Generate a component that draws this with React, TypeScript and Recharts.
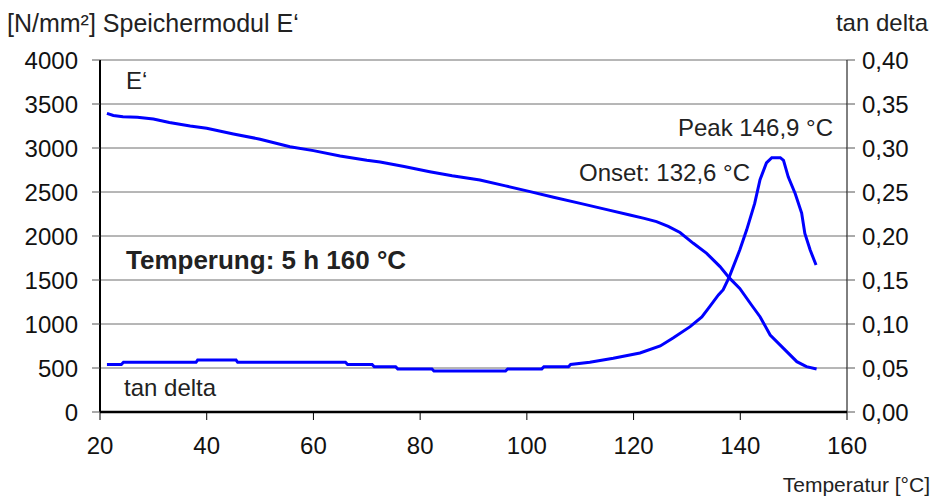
import React from 'react'
import {
  LineChart,
  Line,
  XAxis,
  YAxis,
  CartesianGrid
} from 'recharts'

// Speichermodul E' (left axis)
const tempModulus = [
  21.3, 22.5, 24.3, 27, 30, 33, 36.9, 40, 45, 50, 55.6, 60, 65, 70, 72.5, 77, 81.8, 86,
  91.2, 96, 100.6, 105, 110, 115, 119.3, 122, 124.3, 126.5, 128.7, 131.2, 133.7, 136.2,
  137.9, 139.9, 142.1, 143.7, 145.6, 148.1, 150.6, 152.4, 154.3
]
const modulus = [
  3394, 3370, 3356, 3350, 3330, 3290, 3250, 3225, 3160, 3100, 3015, 2970, 2910, 2860, 2840,
  2790, 2731, 2685, 2636, 2570, 2504, 2440, 2371, 2300, 2239, 2200, 2163, 2110, 2040, 1917,
  1803, 1652, 1527, 1405, 1216, 1083, 875, 723, 572, 515, 489
]

// tan delta (right axis)
const tempTan = [
  21.3, 24.0, 24.4, 38.0, 38.3, 45.5, 45.8, 66.0, 66.4, 71.0, 71.4, 75.4, 75.8, 82.2, 82.6,
  96.0, 96.4, 102.8, 103.2, 107.8, 108.2, 111.8, 116.2, 121.2, 125, 127.4, 130.6, 132.8,
  134.3, 135.9, 136.8, 137.9, 139.9, 141.2, 142.7, 143.7, 144.9, 145.9, 147.5, 148.1, 149,
  150.3, 151.5, 152.1, 153.1, 154.2
]
const tanDelta = [
  0.054, 0.054, 0.0565, 0.0565, 0.059, 0.059, 0.0565, 0.0565, 0.054, 0.054, 0.0515, 0.0515,
  0.049, 0.049, 0.0466, 0.0466, 0.049, 0.049, 0.0515, 0.0515, 0.054, 0.0565, 0.061, 0.067,
  0.075, 0.084, 0.097, 0.108, 0.12, 0.133, 0.139, 0.153, 0.184, 0.207, 0.237, 0.264, 0.283,
  0.289, 0.289, 0.286, 0.267, 0.248, 0.226, 0.203, 0.184, 0.167
]

const xTicks = [20, 40, 60, 80, 100, 120, 140, 160]
const leftTicks = [0, 500, 1000, 1500, 2000, 2500, 3000, 3500, 4000]
const rightTicks = [0, 0.05, 0.1, 0.15, 0.2, 0.25, 0.3, 0.35, 0.4]

const modulusData = tempModulus.map((t, i) => ({ t, e: modulus[i] }))
const tanData = tempTan.map((t, i) => ({ t, tan: tanDelta[i] }))

const font = '"Liberation Sans", Arial, sans-serif'
const tickStyle = { fill: '#111', fontSize: 24, fontFamily: font }

const Text = ({ x, y, children, bold, size = 24, align = 'left' }: any) => (
  <div style={{
    position: 'absolute',
    left: align === 'left' ? x : undefined,
    right: align === 'right' ? 934 - x : undefined,
    top: y,
    fontFamily: font,
    fontSize: size,
    fontWeight: bold ? 700 : 400,
    color: '#222',
    whiteSpace: 'nowrap',
    lineHeight: 1
  }}>
    {children}
  </div>
)

export default function App() {
  return (
    <div style={{ position: 'absolute', left: 0, top: 0, width: 934, height: 501, background: '#fff' }}>
      <LineChart
        width={934}
        height={501}
        margin={{ top: 60, right: 0, bottom: 0, left: 0 }}
      >
        <CartesianGrid vertical={false} stroke="#6e6e6e" strokeWidth={1} yAxisId="left" />
        <XAxis
          type="number"
          dataKey="t"
          domain={[20, 160]}
          ticks={xTicks}
          height={89}
          tick={tickStyle}
          tickSize={8}
          tickMargin={17}
          stroke="#000"
          axisLine={{ stroke: '#000', strokeWidth: 2.5 }}
          allowDuplicatedCategory={false}
        />
        <YAxis
          yAxisId="left"
          domain={[0, 4000]}
          ticks={leftTicks}
          width={100}
          tick={tickStyle}
          tickSize={8}
          tickMargin={14}
          stroke="#000"
          axisLine={{ stroke: '#000', strokeWidth: 2 }}
          tickLine={{ stroke: '#555' }}
        />
        <YAxis
          yAxisId="right"
          orientation="right"
          domain={[0, 0.4]}
          ticks={rightTicks}
          width={87}
          tick={tickStyle}
          tickFormatter={(v: number) => v.toFixed(2).replace('.', ',')}
          tickSize={8}
          tickMargin={7}
          stroke="#000"
          tickLine={{ stroke: '#555' }}
        />
        <Line
          yAxisId="left"
          data={modulusData}
          dataKey="e"
          stroke="#0000ff"
          strokeWidth={3}
          dot={false}
          type="linear"
          isAnimationActive={false}
        />
        <Line
          yAxisId="right"
          data={tanData}
          dataKey="tan"
          stroke="#0000ff"
          strokeWidth={3}
          dot={false}
          type="linear"
          isAnimationActive={false}
        />
      </LineChart>

      <Text x={7} y={11} size={25}>[N/mm²] Speichermodul E‘</Text>
      <Text x={928} y={11} align="right">tan delta</Text>
      <Text x={126} y={69}>E‘</Text>
      <Text x={124} y={376}>tan delta</Text>
      <Text x={126} y={247} size={26} bold>Temperung: 5 h 160 °C</Text>
      <Text x={750} y={161} align="right">Onset: 132,6 °C</Text>
      <Text x={833} y={116} align="right">Peak 146,9 °C</Text>
      <Text x={930} y={474} size={21} align="right">Temperatur [°C]</Text>
    </div>
  )
}
